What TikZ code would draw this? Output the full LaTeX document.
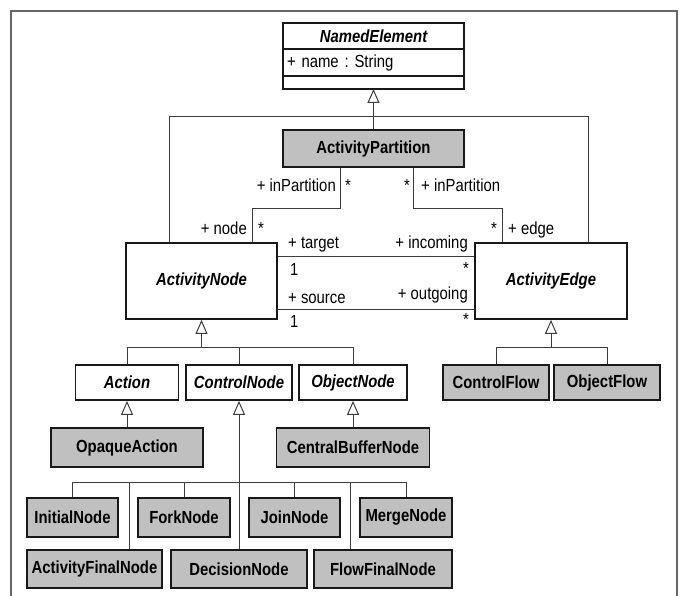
\documentclass[tikz,border=0pt]{standalone}
\usepackage{fontspec}
\setmainfont{Liberation Sans}[FakeStretch=0.85]
\usetikzlibrary{arrows.meta,positioning}
\definecolor{boxgray}{RGB}{192,192,192}
\definecolor{linegray}{RGB}{60,60,60}
\definecolor{framegray}{RGB}{102,102,102}
\tikzset{
  umlbox/.style={draw=black!90, line width=1.7pt, fill=white, inner sep=2pt,
    font=\fontsize{17.5}{20}\selectfont\bfseries},
  absbox/.style={umlbox, font=\fontsize{17.5}{20}\selectfont\bfseries\itshape},
  leafbox/.style={umlbox, fill=boxgray},
  conn/.style={draw=linegray, line width=1pt},
  gen/.style={conn, -{Triangle[open, length=14pt, width=12pt, line width=1pt]}},
  lbl/.style={inner sep=0pt, font=\fontsize{17.5}{20}\selectfont},
}
\frenchspacing
\begin{document}
\begin{tikzpicture}[x=1pt, y=-1pt]
\useasboundingbox (0,0) rectangle (680,596);
% Frame (open at the bottom)
\draw[framegray, line width=2.4pt] (11,596) -- (11,11) -- (677,11) -- (677,596);
% --- NamedElement ---
\node[absbox, minimum width=181pt, minimum height=26pt, outer sep=0pt] (ne) at (373.5,36) {NamedElement};
\node[umlbox, font=\fontsize{17.5}{20}\selectfont, minimum width=181pt, minimum height=27pt,
  text width=173pt, align=left, outer sep=0pt, below=0pt of ne] (ne attr) {+ name : String};
\node[umlbox, minimum width=181pt, minimum height=13pt, outer sep=0pt, below=0pt of ne attr] (ne ops) {};
% --- Partition, node, edge ---
\node[leafbox, minimum width=181pt, minimum height=37pt] (ap) at (373.5,148.5) {ActivityPartition};
\node[absbox, minimum width=151pt, minimum height=76pt] (an) at (201.5,281) {ActivityNode};
\node[absbox, minimum width=152pt, minimum height=76pt] (ae) at (551,281) {ActivityEdge};
% --- Second level ---
\node[absbox, minimum width=103pt, minimum height=35pt] (act) at (127,382.5) {Action};
\node[absbox, minimum width=106pt, minimum height=35pt] (cn) at (239,382.5) {ControlNode};
\node[absbox, minimum width=108pt, minimum height=35pt] (obn) at (353,382.5) {ObjectNode};
\node[leafbox, minimum width=106pt, minimum height=35pt] (cf) at (496,382.5) {ControlFlow};
\node[leafbox, minimum width=106pt, minimum height=35pt] (of) at (607,382.5) {ObjectFlow};
\node[leafbox, minimum width=152pt, minimum height=39pt] (oa) at (127,447.5) {OpaqueAction};
\node[leafbox, minimum width=153pt, minimum height=39pt] (cbn) at (353,447.5) {CentralBufferNode};
% --- Control nodes ---
\node[leafbox, minimum width=91pt, minimum height=39pt] (in) at (72.5,517.5) {InitialNode};
\node[leafbox, minimum width=92pt, minimum height=39pt] (fn) at (184,517.5) {ForkNode};
\node[leafbox, minimum width=91pt, minimum height=39pt] (jn) at (294.5,517.5) {JoinNode};
\node[leafbox, minimum width=92pt, minimum height=39pt] (mn) at (406,517.5) {MergeNode};
\node[leafbox, minimum width=135pt, minimum height=38pt] (afn) at (94.5,569) {ActivityFinalNode};
\node[leafbox, minimum width=136pt, minimum height=38pt] (dn) at (239,569) {DecisionNode};
\node[leafbox, minimum width=138pt, minimum height=38pt] (ffn) at (383,569) {FlowFinalNode};
% Generalizations
\draw[gen] (ap.north) -- (ne ops.south);
\draw[conn] ([xshift=-32.5pt]an.north) -- ++(0,-126) -| ([xshift=37pt]ae.north);
\coordinate (an tree) at ([yshift=-28pt]an.south);
\draw[gen] (an tree) -- (an.south);
\draw[conn] (act.north) |- (an tree) -| (obn.north);
\draw[conn] (cn.north) -- (cn.north |- an tree);
\coordinate (ae tree) at ([yshift=-28pt]ae.south);
\draw[gen] (ae tree) -- (ae.south);
\draw[conn] (cf.north) |- (ae tree) -| (of.north);
\draw[gen] (oa.north) -- (act.south);
\draw[gen] (cbn.north) -- (obn.south);
\coordinate (cn tree) at ([yshift=-82pt]cn.south);
\draw[gen] (dn.north) -- (cn.south);
\draw[conn] (in.north) |- (cn tree) -| (mn.north);
\draw[conn] (fn.north) -- (fn.north |- cn tree);
\draw[conn] (jn.north) -- (jn.north |- cn tree);
\draw[conn] ([xshift=34.5pt]afn.north) |- (cn tree);
\draw[conn] ([xshift=-33pt]ffn.north) |- (cn tree);
% Associations
\draw[conn] ([xshift=-33.5pt]ap.south) -- ++(0,41) -| ([xshift=50.5pt]an.north);
\draw[conn] ([xshift=39.5pt]ap.south) -- ++(0,41) -| ([xshift=-49pt]ae.north);
\draw[conn] ([yshift=25pt]an.east) -- ([yshift=25pt]ae.west);
\draw[conn] ([yshift=-28pt]an.east) -- ([yshift=-28pt]ae.west);
% Role names and multiplicities
\node[lbl, anchor=base east] (ap l role) at (336,192) {+ inPartition};
\node[lbl, anchor=base west] (ap l mult) at (345,192) {*};
\node[lbl, anchor=base east] (ap r mult) at (410,192) {*};
\node[lbl, anchor=base west] (ap r role) at (421,192) {+ inPartition};
\node[lbl, anchor=base east] (an p role) at (247,234) {+ node};
\node[lbl, anchor=base west] (an p mult) at (258,234) {*};
\node[lbl, anchor=base east] (ae p mult) at (497,234) {*};
\node[lbl, anchor=base west] (ae p role) at (508,234) {+ edge};
\node[lbl, anchor=base west] (tgt role) at (288,248) {+ target};
\node[lbl, anchor=base east] (inc role) at (468,248) {+ incoming};
\node[lbl, anchor=base west] (tgt mult) at (290,276) {1};
\node[lbl, anchor=base east] (inc mult) at (469,274) {*};
\node[lbl, anchor=base west] (src role) at (288,303) {+ source};
\node[lbl, anchor=base east] (out role) at (468,299) {+ outgoing};
\node[lbl, anchor=base west] (src mult) at (290,327) {1};
\node[lbl, anchor=base east] (out mult) at (469,325) {*};
\end{tikzpicture}
\end{document}
